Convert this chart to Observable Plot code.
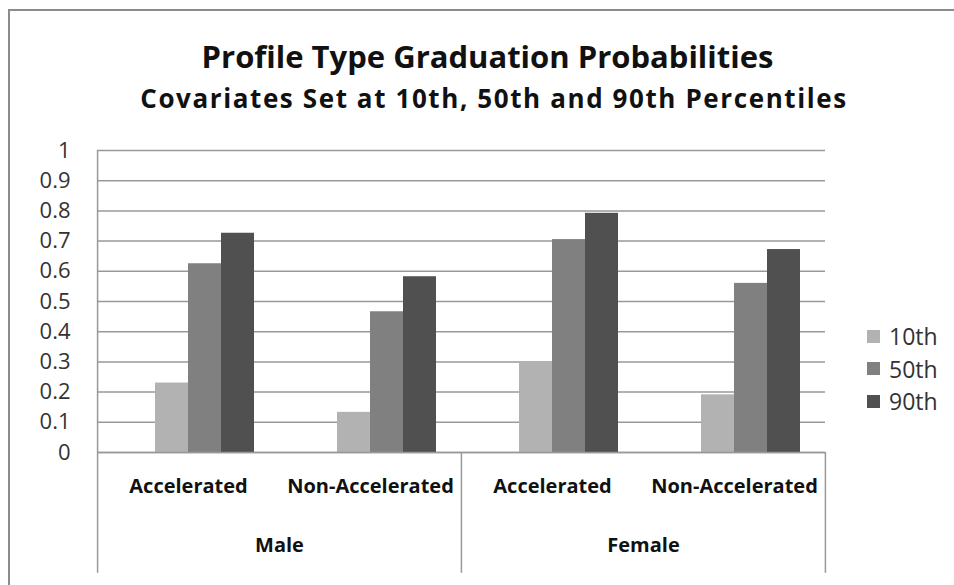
<!DOCTYPE html>
<html>
<head>
<meta charset="utf-8">
<script src="https://cdn.jsdelivr.net/npm/d3@7"></script>
<script src="https://cdn.jsdelivr.net/npm/@observablehq/plot@0.6"></script>
<style>
  body { margin: 0; background: #fff; }
  #wrap { position: relative; width: 954px; height: 585px; overflow: hidden; font-family: "Open Sans", sans-serif; background: #fff; }
  #border { position: absolute; left: 8px; top: 9px; width: 1000px; height: 700px; border-left: 2px solid #8c8c8c; border-top: 2px solid #8c8c8c; box-sizing: border-box; }
  #chart { position: absolute; left: 0; top: 0; }
  .title { position: absolute; left: 0; width: 975px; text-align: center; font-weight: bold; color: #111; white-space: nowrap; }
  #t1 { top: 36px; font-size: 31px; line-height: 40px; }
  #t2 { top: 82px; font-size: 26px; line-height: 32px; letter-spacing: 1.6px; width: 988px; }
  #legend { position: absolute; left: 867px; top: 320px; }
  .li { display: flex; align-items: center; height: 32.5px; font-size: 23px; color: #333; }
  .sw { width: 13px; height: 13px; margin-right: 9px; }
</style>
</head>
<body>
<div id="wrap">
  <div id="border"></div>
  <div id="chart"></div>
  <div class="title" id="t1"></div>
  <div class="title" id="t2"></div>
  <div id="legend"></div>
</div>
<script>
// ---- data ----
const titleText = "Profile Type Graduation Probabilities";
const subtitleText = "Covariates Set at 10th, 50th and 90th Percentiles";
const genders = ["Male", "Male", "Female", "Female"];
const profiles = ["Accelerated", "Non-Accelerated", "Accelerated", "Non-Accelerated"];
const percentiles = ["10th", "50th", "90th"];
const p10 = [0.23, 0.133, 0.30, 0.191];
const p50 = [0.625, 0.466, 0.705, 0.56];
const p90 = [0.726, 0.582, 0.792, 0.672];
const colors = ["#b2b2b2", "#808080", "#505050"];
const yTicks = [0, 0.1, 0.2, 0.3, 0.4, 0.5, 0.6, 0.7, 0.8, 0.9, 1];
const yTickLabels = ["0", "0.1", "0.2", "0.3", "0.4", "0.5", "0.6", "0.7", "0.8", "0.9", "1"];

// ---- build table ----
const cats = genders.map((g, i) => g + "|" + profiles[i]);
const series = [p10, p50, p90];
const rows = [];
cats.forEach((c, i) => percentiles.forEach((p, j) => rows.push({cat: c, pct: p, value: series[j][i]})));

// ---- layout ----
const W = 954, H = 585, ML = 96, MR = 129, MT = 150, MB = 133;
const band = (W - ML - MR) / cats.length;
const outer = 0.75;
const step = band / (percentiles.length + 1 + 2 * outer);
const edge = (outer + 0.5) * step;
const lineColor = "#999";

const chart = Plot.plot({
  width: W, height: H,
  marginLeft: ML, marginRight: MR, marginTop: MT, marginBottom: MB,
  style: {fontFamily: "Open Sans, sans-serif", fontSize: "20px", color: "#333", background: "transparent", overflow: "visible"},
  fx: {domain: cats, padding: 0, axis: null},
  x: {domain: ["", ...percentiles], paddingInner: 0, paddingOuter: outer, axis: null},
  y: {domain: [0, 1], axis: null},
  color: {domain: percentiles, range: colors},
  marks: [
    Plot.gridY(yTicks, {stroke: lineColor, strokeOpacity: 1, strokeWidth: 1.5}),
    Plot.axisY(yTicks, {tickSize: 0, tickPadding: 27, tickFormat: (d, i) => yTickLabels[i], fontSize: 22, fill: "#333", label: null}),
    Plot.barY(rows, {fx: "cat", x: "pct", y: "value", fill: "pct"}),
    Plot.ruleY([0], {stroke: lineColor, strokeWidth: 1.5}),
    // left axis line (plot + category area)
    Plot.ruleX([cats[0]], {fx: d => d, x: () => "", y1: 1, y2: -0.4, dx: -edge, stroke: lineColor, strokeWidth: 1.5}),
    // group separators (right edges of each gender group)
    Plot.ruleX([cats[1], cats[3]], {fx: d => d, x: () => percentiles[2], y1: 0, y2: -0.4, dx: edge, stroke: lineColor, strokeWidth: 1.5}),
    // category labels
    Plot.text(cats, {fx: d => d, text: (d, i) => profiles[i], frameAnchor: "bottom", dy: 40, fontSize: 20, fontWeight: "bold", fill: "#111"}),
    // group labels
    Plot.text([cats[0], cats[2]], {fx: d => d, text: (d, i) => genders[i * 2], frameAnchor: "bottom-right", textAnchor: "middle", dy: 99, fontSize: 20, fontWeight: "bold", fill: "#111"})
  ]
});
document.getElementById("chart").appendChild(chart);
document.getElementById("t1").textContent = titleText;
document.getElementById("t2").textContent = subtitleText;

const legend = d3.select("#legend");
percentiles.forEach((p, i) => {
  const item = legend.append("div").attr("class", "li");
  item.append("div").attr("class", "sw").style("background", colors[i]);
  item.append("span").text(p);
});
</script>
</body>
</html>
